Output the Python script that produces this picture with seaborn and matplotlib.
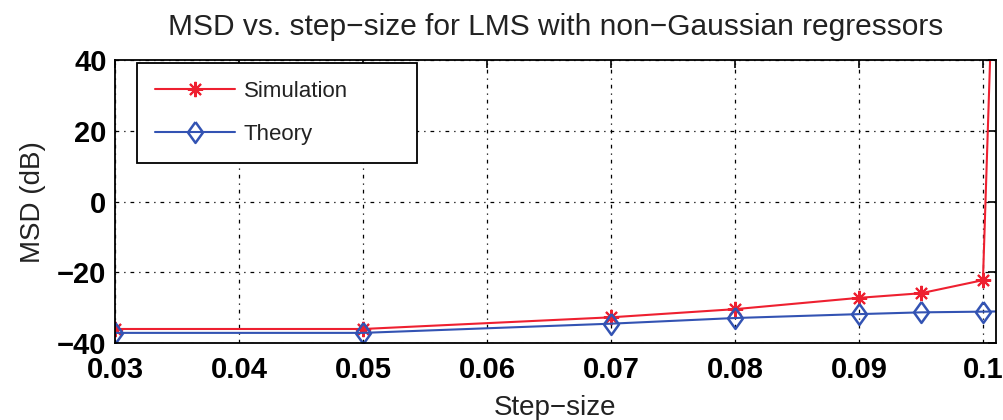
import matplotlib
matplotlib.use("Agg")
import matplotlib.pyplot as plt
import seaborn as sns
import pandas as pd

# ---- data ----
step_size = [0.03, 0.05, 0.07, 0.08, 0.09, 0.095, 0.10, 0.102]
msd_simulation = [-36.0, -36.0, -32.7, -30.4, -27.2, -25.9, -22.2, 194.0]
msd_theory = [-37.1, -37.1, -34.5, -32.9, -31.8, -31.3, -31.1, -31.0]
x_ticks = [0.03, 0.04, 0.05, 0.06, 0.07, 0.08, 0.09, 0.10]
x_tick_labels = ["0.03", "0.04", "0.05", "0.06", "0.07", "0.08", "0.09", "0.1"]
y_ticks = [-40, -20, 0, 20, 40]
y_tick_labels = ["\u221240", "\u221220", "0", "20", "40"]

sns.set_style("white")
plt.rcParams["font.family"] = ["Liberation Sans", "DejaVu Sans"]

df_sim = pd.DataFrame({"x": step_size, "y": msd_simulation})
df_th = pd.DataFrame({"x": step_size, "y": msd_theory})

fig = plt.figure(figsize=(10.04, 4.2), dpi=100)
ax = fig.add_axes([0.1145, 0.183, 0.8775, 0.674])

red = "#ee2030"
blue = "#3353b3"
diamond = [(0, 1), (0.72, 0), (0, -1), (-0.72, 0), (0, 1)]

sns.lineplot(data=df_sim, x="x", y="y", ax=ax, color=red, linewidth=1.5,
             marker=(8, 2, 0), markersize=11, markeredgewidth=1.5,
             markeredgecolor=red, label="Simulation", sort=False)
sns.lineplot(data=df_th, x="x", y="y", ax=ax, color=blue, linewidth=1.5,
             marker=diamond, markersize=15, markeredgewidth=1.8,
             markerfacecolor="none", markeredgecolor=blue, label="Theory",
             sort=False)

ax.set_xlim(0.03, 0.10105)
ax.set_ylim(-40, 40)
ax.set_xticks(x_ticks)
ax.set_xticklabels(x_tick_labels)
ax.set_yticks(y_ticks)
ax.set_yticklabels(y_tick_labels)

ax.grid(True, color="black", linestyle=(0, (3, 4, 1, 4)), linewidth=0.9)
ax.set_axisbelow(True)
for s in ax.spines.values():
    s.set_visible(True)
    s.set_color("black")
    s.set_linewidth(1.3)

ax.tick_params(axis="both", direction="in", length=6, width=1.2,
               top=True, right=True, labelsize=21, colors="black")
ax.tick_params(axis="x", pad=9)
ax.tick_params(axis="y", pad=6)
for lab in ax.get_xticklabels() + ax.get_yticklabels():
    lab.set_fontweight("bold")

ax.set_xlabel("Step\u2212size", fontsize=20, color="#222222", labelpad=8)
ax.set_ylabel("MSD (dB)", fontsize=20, color="#222222", labelpad=8)
ax.set_title("MSD vs. step\u2212size for LMS with non\u2212Gaussian regressors",
             fontsize=21.5, color="#222222", pad=18)

leg_w = 280 / 881
leg_h = 99 / 283
leg = ax.legend(loc="upper left", bbox_to_anchor=(0.025, 0.99 - leg_h, leg_w, leg_h),
                mode="expand", borderaxespad=0,
                fontsize=16, frameon=True, fancybox=False, handlelength=3.6,
                handletextpad=0.4, borderpad=0.8, labelspacing=1.0,
                edgecolor="black", framealpha=1)
leg.get_frame().set_linewidth(1.3)
for t in leg.get_texts():
    t.set_color("#222222")

fig.savefig("out.png", dpi=100)
